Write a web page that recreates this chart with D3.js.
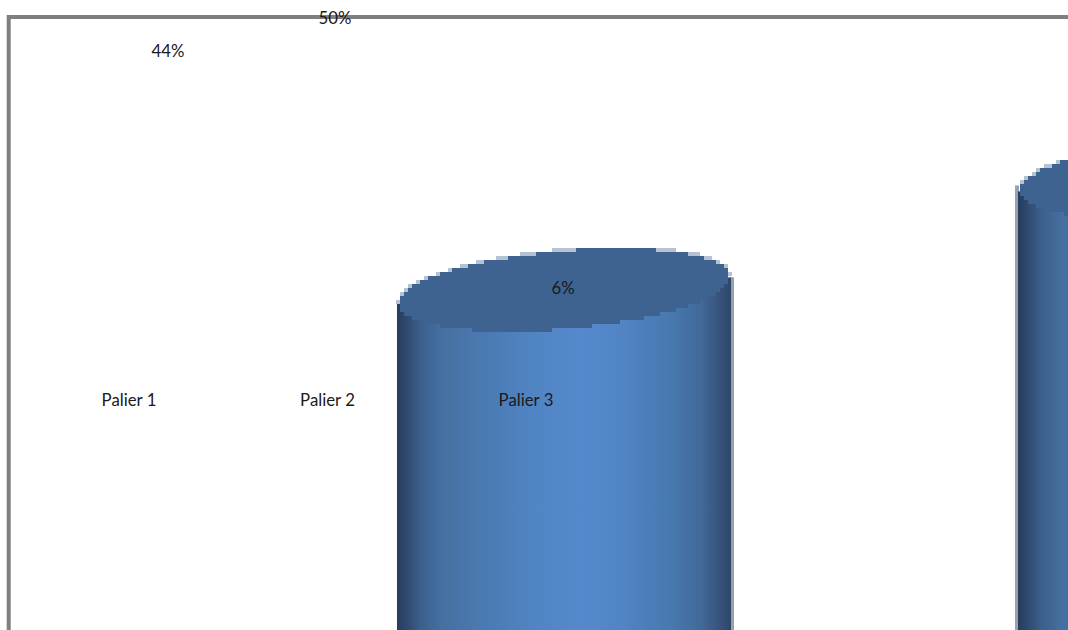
<!DOCTYPE html>
<html>
<head>
<meta charset="utf-8">
<script src="https://cdn.jsdelivr.net/npm/d3@7"></script>
<style>
html,body{margin:0;padding:0;background:#fff;overflow:hidden}
svg{display:block}
text{font-family:Lato,"Open Sans",sans-serif;font-size:16.8px;fill:#1a1a1a;text-anchor:middle;dominant-baseline:middle}
</style>
</head>
<body>
<svg id="c" width="1068" height="630"></svg>
<script>
const categories = ["Palier 1", "Palier 2", "Palier 3"];
const labelValues = [44, 50, 6];
const labelTexts = ["44%", "50%", "6%"];
const cylinderValues = [6, 24];

const W = 1068, H = 630;
const svg = d3.select("#c");

const yScale = d3.scaleLinear().domain([6, 44, 50]).range([288, 51, 18]);
const catX = d3.scalePoint().domain(categories).range([129, 526]);
const labelX = d3.scaleOrdinal().domain(categories).range([168, 335, 563]);
const cylX = d3.scaleLinear().domain([0, 1]).range([397, 1018]);
const cylW = 334, ry = 39, tilt = -4.9 * Math.PI / 180, px = 4;
const textShift = 1.5;

const defs = svg.append("defs");
const stops = [[0,"#263c5c"],[0.03,"#2f4a70"],[0.07,"#3c5f8b"],[0.13,"#456f9f"],[0.24,"#4a78b0"],[0.4,"#5084c2"],[0.56,"#5689cc"],[0.68,"#5084c3"],[0.82,"#4779af"],[0.91,"#41699a"],[0.96,"#38557f"],[1,"#2e4768"]];
const grad = defs.append("linearGradient").attr("id","body").attr("x1",0).attr("x2",1).attr("y1",0).attr("y2",0);
grad.selectAll("stop").data(stops).join("stop").attr("offset",d=>d[0]).attr("stop-color",d=>d[1]);

function outline(cx, cy, rx, snap) {
  const pts = d3.range(0, 360, 1).map(a => {
    const t = a * Math.PI / 180;
    const ex = rx * Math.cos(t), ey = ry * Math.sin(t);
    const x = cx + ex * Math.cos(tilt) - ey * Math.sin(tilt);
    const y = cy + ex * Math.sin(tilt) + ey * Math.cos(tilt);
    return [Math.round(x / snap) * snap, Math.round(y / snap) * snap];
  });
  return d3.line().curve(d3.curveStepAfter)(pts) + "Z";
}

const cyl = svg.append("g").selectAll("g").data(cylinderValues).join("g");
cyl.each(function(v, i) {
  const g = d3.select(this);
  const left = cylX(i), cx = left + cylW / 2, cy = yScale(v) + 1.5;
  const dy = cylW / 2 * Math.sin(tilt);
  g.append("rect")
    .attr("x", i === 0 ? left + cylW - 1 : left - 3)
    .attr("y", i === 0 ? cy + dy + 2 : cy - dy - 6)
    .attr("width", 4).attr("height", H).attr("fill", "#98a1ae");
  g.append("path")
    .attr("d", `M${left},${cy - dy}L${left + cylW},${cy + dy + 2}V${H}H${left}Z`)
    .attr("fill", "url(#body)");
  g.append("path").attr("d", outline(cx, cy - 1.5, cylW / 2, px)).attr("fill", "#b4c2d4").attr("shape-rendering","crispEdges");
  g.append("path").attr("d", outline(cx, cy + 0.5, cylW / 2 - 1, px)).attr("fill", "#3e6391").attr("shape-rendering","crispEdges");
});

svg.append("path")
  .attr("d", `M8.7,${H}V16.9H${W}`)
  .attr("fill", "none").attr("stroke", "#7f7f7f").attr("stroke-width", 4);

svg.append("g").selectAll("text").data(categories).join("text")
  .attr("x", d => catX(d)).attr("y", 400 + textShift).text(d => d);

svg.append("g").selectAll("text").data(categories).join("text")
  .attr("x", d => labelX(d)).attr("y", (d, i) => yScale(labelValues[i]) + textShift)
  .text((d, i) => labelTexts[i]);
</script>
</body>
</html>
